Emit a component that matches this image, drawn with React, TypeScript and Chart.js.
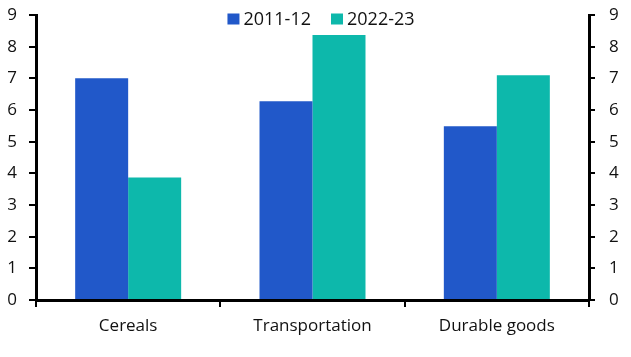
import React, { useEffect, useRef } from "react";
import { Chart, registerables } from "chart.js";

Chart.register(...registerables);

const categories = ["Cereals", "Transportation", "Durable goods"];
const series1Label = "2011-12";
const series2Label = "2022-23";
const series1 = [7.0, 6.28, 5.49];
const series2 = [3.87, 8.37, 7.1];
const yTicks = [0, 1, 2, 3, 4, 5, 6, 7, 8, 9];

const BLUE = "#2158c9";
const TEAL = "#0db8ab";
const FONT = "'Open Sans', 'Noto Sans', sans-serif";
const FS = 17;

const topLegend = {
  id: "topLegend",
  afterDraw(chart: any) {
    const c = chart.ctx;
    c.save();
    c.font = `18px ${FONT}`;
    c.textBaseline = "middle";
    c.textAlign = "left";
    const box = 11, gapBox = 5, gapItem = 20;
    const items = chart.data.datasets.map((d: any) => ({ label: d.label, color: d.backgroundColor, w: c.measureText(d.label).width }));
    const total = items.reduce((a: number, it: any) => a + box + gapBox + it.w, 0) + gapItem * (items.length - 1);
    const mid = 321;
    let x = mid - total / 2;
    const y = 19;
    for (const it of items) {
      c.fillStyle = it.color;
      c.fillRect(x, y - box / 2, box + 1, box);
      x += box + gapBox;
      c.fillStyle = "#111";
      c.fillText(it.label, x, y + 1);
      x += it.w + gapItem;
    }
    c.restore();
  },
};

export default function App() {
  const ref = useRef<HTMLCanvasElement | null>(null);
  useEffect(() => {
    document.body.style.margin = "0";
    const ctx = ref.current!;
    const chart = new Chart(ctx, {
      type: "bar",
      data: {
        labels: categories,
        datasets: [
          { label: series1Label, data: series1, backgroundColor: BLUE, yAxisID: "y", barPercentage: 1, categoryPercentage: 0.575 },
          { label: series2Label, data: series2, backgroundColor: TEAL, yAxisID: "y", barPercentage: 1, categoryPercentage: 0.575 },
        ],
      },
      plugins: [topLegend],
      options: {
        animation: false,
        responsive: false,
        maintainAspectRatio: false,
        layout: { padding: { top: 15, bottom: 0, left: 0, right: 0 } },
        plugins: {
          legend: { display: false },
          tooltip: { enabled: false },
        },
        scales: {
          x: {
            grid: { display: true, drawOnChartArea: false, offset: true, tickLength: 7, color: "#000", lineWidth: 2 },
            border: { display: true, color: "#000", width: 3 },
            ticks: { color: "#111", font: { family: FONT, size: FS }, padding: 9 },
            afterFit: (s: any) => { s.height = 57; s.paddingLeft = 0; s.paddingRight = 0; },
          },
          y: {
            position: "left",
            min: 0,
            max: 9,
            afterBuildTicks: (s: any) => { s.ticks = yTicks.map((v) => ({ value: v })); },
            grid: { display: true, drawOnChartArea: false, tickLength: 7, color: "#000", lineWidth: 2 },
            border: { display: true, color: "#000", width: 3 },
            ticks: { color: "#111", font: { family: FONT, size: FS }, padding: 12 },
            afterFit: (s: any) => { s.width = 36; s.paddingTop = 0; s.paddingBottom = 0; },
          },
          y2: {
            position: "right",
            min: 0,
            max: 9,
            afterBuildTicks: (s: any) => { s.ticks = yTicks.map((v) => ({ value: v })); },
            grid: { display: true, drawOnChartArea: false, tickLength: 6, color: "#000", lineWidth: 2 },
            border: { display: true, color: "#000", width: 3 },
            ticks: { color: "#111", font: { family: FONT, size: FS }, padding: 14 },
            afterFit: (s: any) => { s.width = 42; s.paddingTop = 0; s.paddingBottom = 0; },
          },
        },
      },
    });
    return () => chart.destroy();
  }, []);
  return <canvas ref={ref} width={631} height={357} style={{ display: "block" }} />;
}
